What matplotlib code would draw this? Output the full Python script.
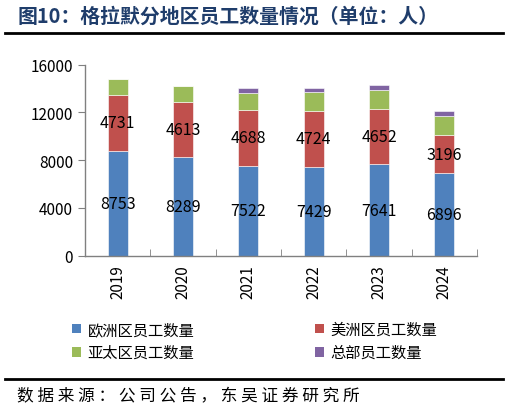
import matplotlib
matplotlib.use("Agg")
import matplotlib.pyplot as plt
from matplotlib.patches import Patch
from matplotlib.lines import Line2D
from matplotlib.ticker import FixedLocator
import numpy as np

plt.rcParams['font.family'] = ['Noto Sans CJK SC', 'DejaVu Sans']

years = ["2019", "2020", "2021", "2022", "2023", "2024"]
europe = [8753, 8289, 7522, 7429, 7641, 6896]
americas = [4731, 4613, 4688, 4724, 4652, 3196]
asia = [1340, 1280, 1390, 1530, 1550, 1640]
hq = [0, 0, 450, 390, 420, 390]

names = ["欧洲区员工数量", "美洲区员工数量", "亚太区员工数量", "总部员工数量"]
colors = ["#4F81BD", "#C0504D", "#9BBB59", "#8064A2"]

fig = plt.figure(figsize=(5.09, 4.14), dpi=100)
ax = fig.add_axes([85/509, 1-256.7/414, (477-85)/509, (256.7-65.7)/414])

x = np.arange(len(years))
w = 0.31
series = [europe, americas, asia, hq]
bottom = np.zeros(len(years))
for vals, c in zip(series, colors):
    ax.bar(x, vals, w, bottom=bottom, color=c, edgecolor="white", linewidth=0.4)
    bottom = bottom + np.array(vals)

for i in range(len(years)):
    ax.text(x[i], europe[i]/2, str(europe[i]), ha="center", va="center", fontsize=11.5, color="black")
    ax.text(x[i], europe[i] + americas[i]/2, str(americas[i]), ha="center", va="center", fontsize=11.5, color="black")

ax.set_xlim(-0.5, len(years)-0.5)
ax.set_ylim(0, 16000)
ax.set_yticks([0, 4000, 8000, 12000, 16000])
ax.set_xticks(x)
ax.set_xticklabels(years, rotation=90, fontsize=11)
ax.xaxis.set_minor_locator(FixedLocator(np.arange(-0.5, len(years), 1.0)))
ax.tick_params(axis="x", which="major", length=0, pad=6)
ax.tick_params(axis="x", which="minor", direction="in", length=5, color="#808080")
ax.tick_params(axis="y", direction="out", length=5, color="#808080", labelsize=11)
for s in ["top", "right"]:
    ax.spines[s].set_visible(False)
for s in ["left", "bottom"]:
    ax.spines[s].set_color("#808080")
    ax.spines[s].set_linewidth(1.0)

handles = [Patch(facecolor=colors[0]), Patch(facecolor=colors[2]),
           Patch(facecolor=colors[1]), Patch(facecolor=colors[3])]
labels = [names[0], names[2], names[1], names[3]]
fig.legend(handles, labels, loc="center", bbox_to_anchor=(0.5, 1-342/414), ncol=2,
           frameon=False, fontsize=11, handlelength=0.6, handleheight=0.6,
           handletextpad=0.4, columnspacing=7.9, labelspacing=0.4)

fig.text(18/509, 1-16/414, "图10：格拉默分地区员工数量情况（单位：人）", fontsize=14.3,
         fontweight="bold", color="#1F3D6B", ha="left", va="center")
fig.add_artist(Line2D([5/509, 503/509], [1-34.3/414]*2, color="black", lw=2))
fig.add_artist(Line2D([5/509, 503/509], [1-380/414]*2, color="black", lw=2))
fig.text(17/509, 1-397/414, " ".join("数据来源：公司公告，东吴证券研究所"), fontsize=12,
         color="black", ha="left", va="center")

fig.savefig("out.png", dpi=100)
